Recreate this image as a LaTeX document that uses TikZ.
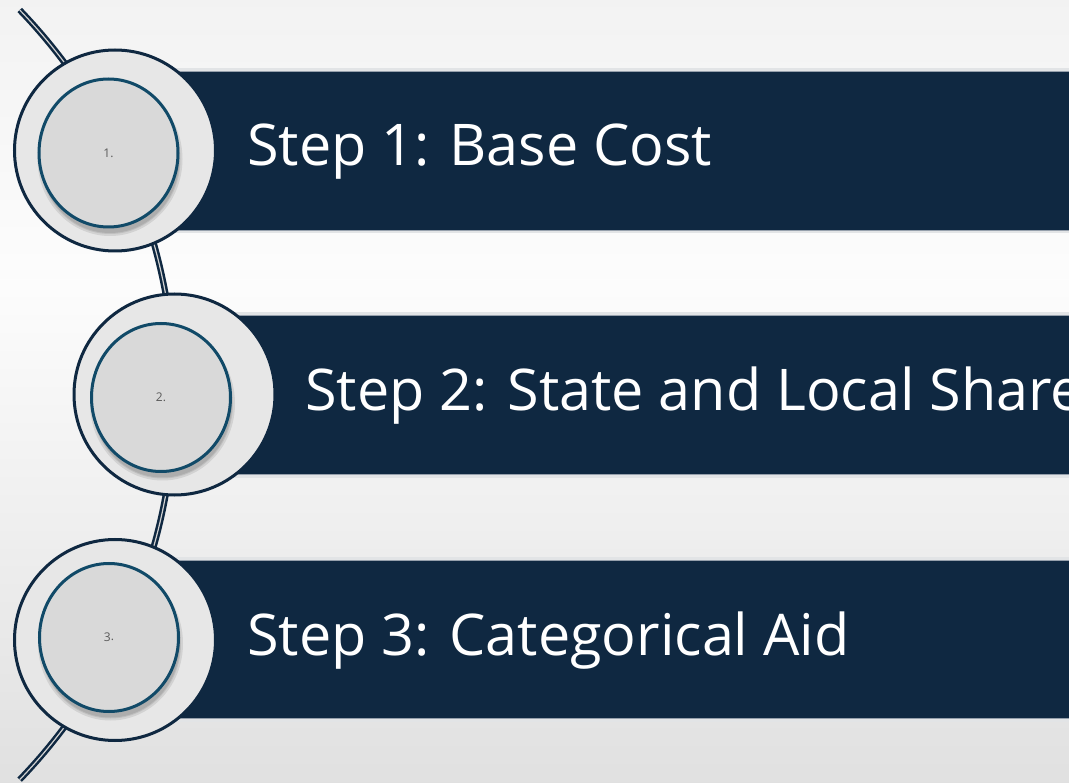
\documentclass[tikz,border=0pt]{standalone}
\usepackage{fontspec}
\setmainfont{Open Sans}
\usetikzlibrary{shapes.geometric}
\definecolor{navy}{RGB}{15,40,65}
\definecolor{ringfill}{RGB}{231,231,231}
\definecolor{innerfill}{RGB}{217,217,217}
\definecolor{innerline}{RGB}{17,74,104}
\definecolor{numgray}{RGB}{89,89,89}
\definecolor{barline}{RGB}{150,160,172}
\definecolor{barband}{RGB}{226,228,230}
\tikzset{
  conn/.style={draw=navy, line width=2.5pt, double=black!18, double distance=1.2pt, line cap=butt},
  ring/.style={circle, draw=navy, line width=3pt, fill=ringfill, minimum size=201pt, inner sep=0pt},
  disc/.style={ellipse, draw=innerline, line width=3pt, fill=innerfill, minimum width=139pt, minimum height=148pt, inner sep=0pt, text=numgray, font=\fontsize{12}{13}\selectfont},
  discshadow/.style={ellipse, fill=black, opacity=0.09, minimum width=139pt, minimum height=148pt, inner sep=0pt},
  barband/.style={fill=barband},
  barbox/.style={fill=navy, draw=barline, line width=0.6pt},
  bartext/.style={text=white, anchor=base west, inner sep=0pt, font=\fontsize{57.5}{66}\selectfont}
}
\begin{document}
\begin{tikzpicture}[x=1pt,y=-1pt]
\useasboundingbox (0,0) rectangle (1069,783);
\clip (0,0) rectangle (1069,783);
% background
\shade[top color=black!5, bottom color=black!1] (0,0) rectangle (1069,280);
\shade[top color=black!1, bottom color=black!12] (0,280) rectangle (1069,783);
% connector arc
\coordinate (arctop) at (19.7,10);
\draw[conn] (arctop) arc[start angle=-43.9, end angle=43.9, radius=555];
% bars
\fill[barband] (110,68) rectangle (1075,233.5);
\draw[barbox] (110,71.5) rectangle (1075,230);
\fill[barband] (170,312) rectangle (1075,478);
\draw[barbox] (170,315.5) rectangle (1075,474.5);
\fill[barband] (110,557) rectangle (1075,721.5);
\draw[barbox] (110,560) rectangle (1075,718);
% rings
\node[ring] (r1) at (115,150.5) {};
\node[ring] (r2) at (174.5,394.5) {};
\node[ring] (r3) at (115,640) {};
% disc shadows
\foreach \p in {(110,159),(162.5,403.5),(110.5,643.5)}{
  \node[discshadow, minimum width=145pt, minimum height=154pt] at \p {};
  \node[discshadow, minimum width=141pt, minimum height=150pt] at \p {};
  \node[discshadow] at \p {};
}
% discs
\node[disc] (d1) at (108.5,153) {1.};
\node[disc] (d2) at (161,397.5) {2.};
\node[disc] (d3) at (109,637.5) {3\raisebox{0.25ex}{.}};
% texts
\node[bartext] (t1) at (247,166) {Step 1: Base Cost};
\node[bartext] (t2) at (305,411) {Step 2: State and Local Share};
\node[bartext] (t3) at (247,655) {Step 3: Categorical Aid};
\end{tikzpicture}
\end{document}
